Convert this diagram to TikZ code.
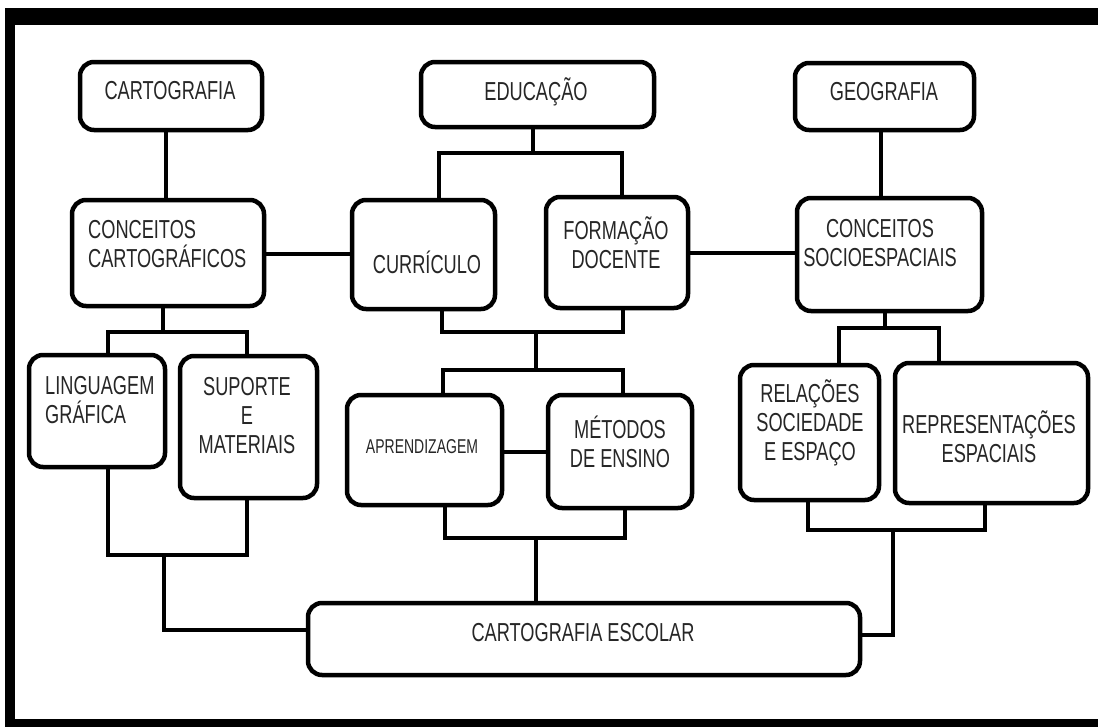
\documentclass[tikz,border=0pt]{standalone}
\usepackage{fontspec}
\setmainfont[FakeStretch=0.7]{Liberation Sans}
\newcommand\mkbox[5]{\node[box, minimum width={(#4-#2)*1pt}, minimum height={(#5-#3)*1pt}] (#1) at ({(#2+#4)/2},{(#3+#5)/2}) {};}
\begin{document}
\begin{tikzpicture}[x=1pt,y=-1pt,
  box/.style={draw, line width=4.5pt, rounded corners=14pt, inner sep=0pt, fill=white},
  lbl/.style={font=\fontsize{26}{29}\selectfont, text=black!85, inner sep=0pt},
  small/.style={font=\fontsize{20}{23}\selectfont, text=black!85, inner sep=0pt},
  conn/.style={line width=4pt}]
\useasboundingbox (0,0) rectangle (1098,726);
\clip (0,0) rectangle (1098,726);
\fill[white] (0,0) rectangle (1098,726);
% frame
\fill[black] (5,8) rectangle (1120,740);
\fill[white] (15,25) rectangle (1098,719);

% boxes
\mkbox{cart}{80}{62}{262}{130}
\mkbox{edu}{421}{62}{654}{127}
\mkbox{geo}{795}{63}{974}{130}
\mkbox{cc}{72}{200}{264}{306}
\mkbox{curr}{352}{200}{495}{309}
\mkbox{form}{546}{197}{688}{308}
\mkbox{cs}{797}{198}{982}{311}
\mkbox{ling}{29}{355}{165}{467}
\mkbox{sup}{180}{356}{317}{498}
\mkbox{apr}{347}{395}{502}{505}
\mkbox{met}{548}{395}{692}{508}
\mkbox{rel}{740}{365}{879}{500}
\mkbox{rep}{895}{363}{1088}{503}
\mkbox{ce}{308}{603}{860}{675}

% texts
\node[lbl] (t-cart) at (170,91) {CARTOGRAFIA};
\node[lbl] (t-edu) at (536,92) {EDUCAÇÃO};
\node[lbl] (t-geo) at (884,92) {GEOGRAFIA};
\node[lbl, align=left, anchor=west] (t-cc) at (88,244) {CONCEITOS\\CARTOGRÁFICOS};
\node[lbl] (t-curr) at (427,262) {CURRÍCULO};
\node[lbl, align=center] (t-form) at (616,243) {FORMAÇÃO\\DOCENTE};
\node[lbl, align=center] (t-cs) at (880,243) {CONCEITOS\\SOCIOESPACIAIS};
\node[lbl, align=left, anchor=west] (t-ling) at (45,400) {LINGUAGEM\\GRÁFICA};
\node[lbl, align=center] (t-sup) at (247,416) {SUPORTE\\E\\MATERIAIS};
\node[small] (t-apr) at (422,447) {APRENDIZAGEM};
\node[lbl, align=center] (t-met) at (620,442) {MÉTODOS\\DE ENSINO};
\node[lbl, align=center] (t-rel) at (810,423) {RELAÇÕES\\SOCIEDADE\\E ESPAÇO};
\node[lbl, align=center] (t-rep) at (989,437) {REPRESENTAÇÕES\\ESPACIAIS};
\node[lbl] (t-ce) at (583,633) {CARTOGRAFIA ESCOLAR};

% connectors
\draw[conn] (cart.south -| 166,0) -- (cc.north -| 166,0);
\draw[conn] (cc.south -| 163,0) -- (163,332);
\draw[conn] (ling.north -| 108,0) -- (108,332) -- (247,332) -- (sup.north -| 247,0);
\draw[conn] (ling.south -| 108,0) -- (108,555) -- (247,555) -- (sup.south -| 247,0);
\draw[conn] (164,555) -- (164,630) -- (ce.west |- 0,630);
\draw[conn] (cc.east |- 0,254) -- (curr.west |- 0,254);
\draw[conn] (edu.south -| 533,0) -- (533,153);
\draw[conn] (curr.north -| 439,0) -- (439,153) -- (622,153) -- (form.north -| 622,0);
\draw[conn] (form.east |- 0,253) -- (cs.west |- 0,253);
\draw[conn] (curr.south -| 442,0) -- (442,332) -- (623,332) -- (form.south -| 623,0);
\draw[conn] (536,332) -- (536,370);
\draw[conn] (apr.north -| 443,0) -- (443,370) -- (623,370) -- (met.north -| 623,0);
\draw[conn] (apr.east |- 0,452) -- (met.west |- 0,452);
\draw[conn] (apr.south -| 445,0) -- (445,538) -- (625,538) -- (met.south -| 625,0);
\draw[conn] (536,538) -- (ce.north -| 536,0);
\draw[conn] (geo.south -| 881,0) -- (cs.north -| 881,0);
\draw[conn] (cs.south -| 885,0) -- (885,328);
\draw[conn] (rel.north -| 839,0) -- (839,328) -- (939,328) -- (rep.north -| 939,0);
\draw[conn] (rel.south -| 808,0) -- (808,530) -- (985,530) -- (rep.south -| 985,0);
\draw[conn] (893,530) -- (893,635) -- (ce.east |- 0,635);
\end{tikzpicture}
\end{document}
